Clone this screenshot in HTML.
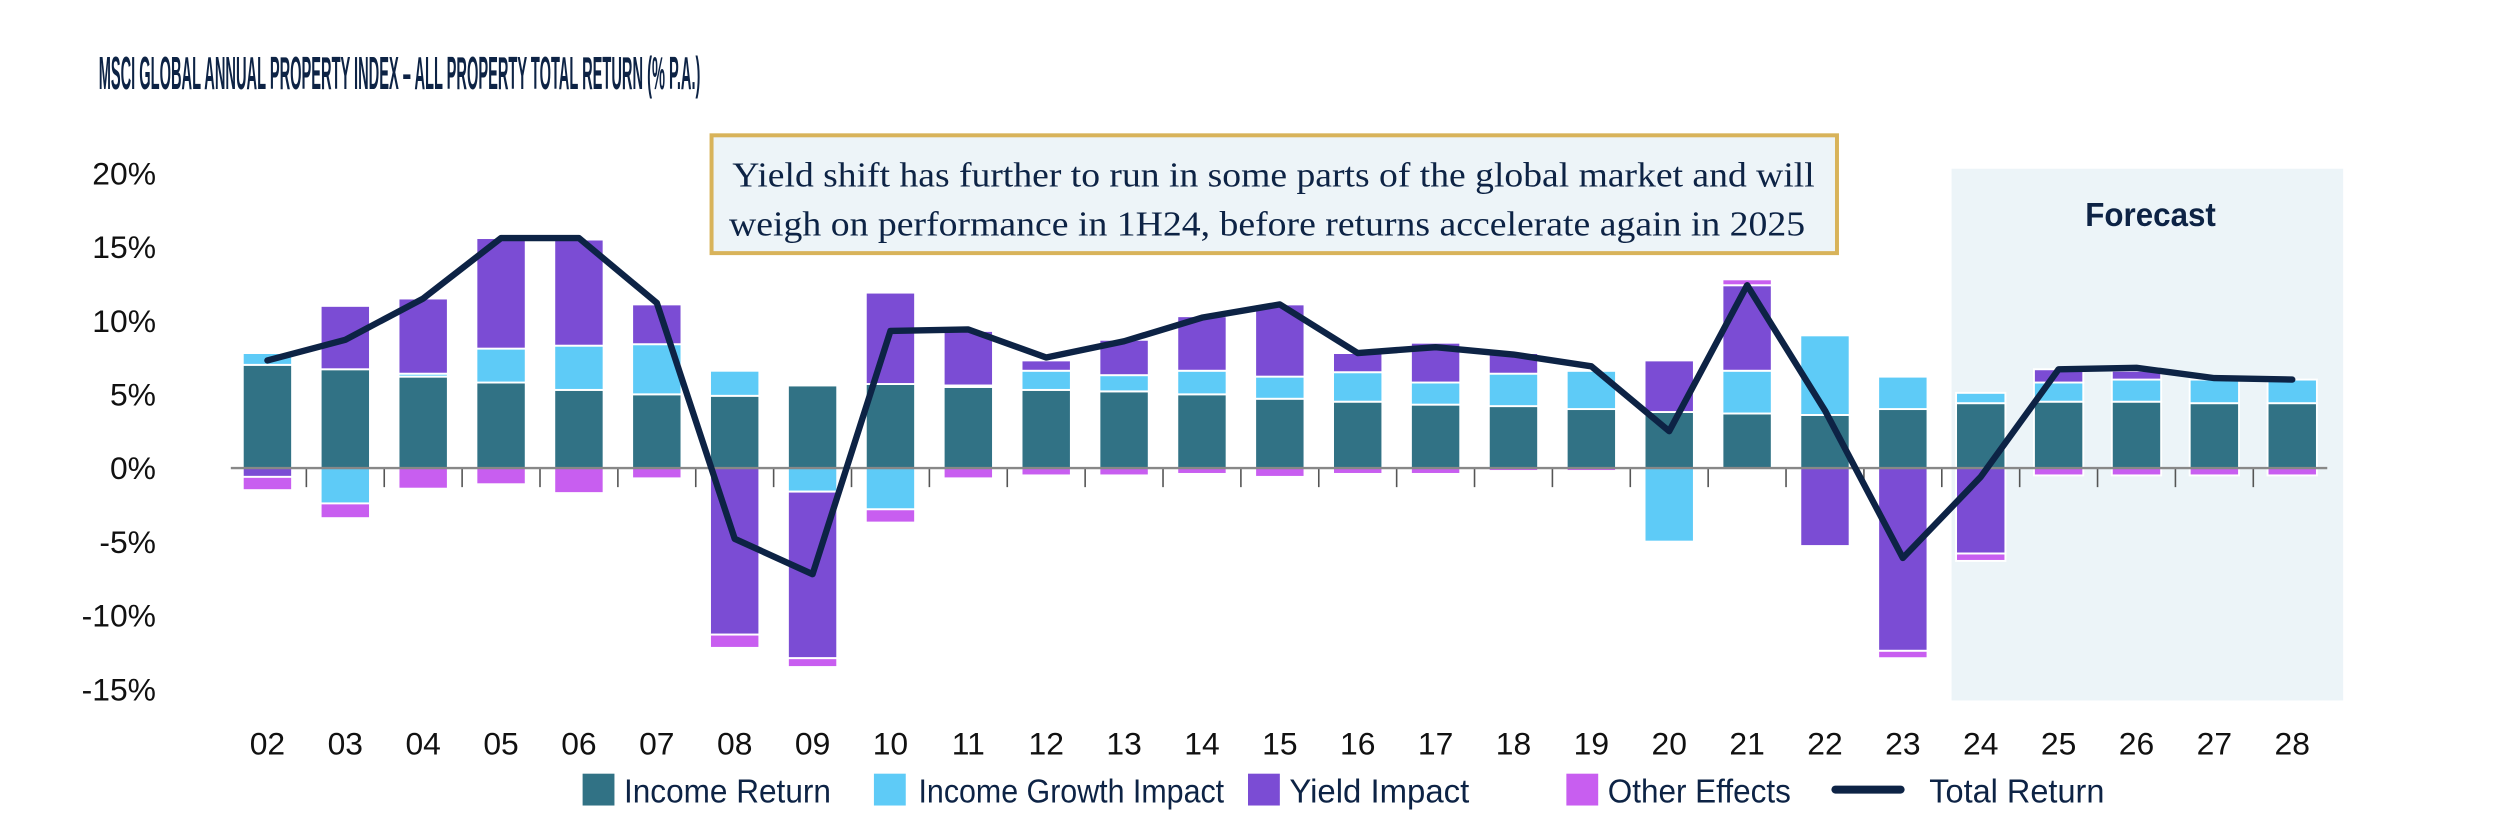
<!DOCTYPE html>
<html><head><meta charset="utf-8"><style>
html,body{margin:0;padding:0;background:#fff;}
svg{display:block;}
</style></head><body>
<svg id="chart" width="2496" height="838" viewBox="0 0 1568 526.4" preserveAspectRatio="none" xmlns="http://www.w3.org/2000/svg">
<text id="title" x="0" y="0" font-family="Liberation Sans, sans-serif" font-weight="bold" font-size="20" fill="#0d2345">MSCI GLOBAL ANNUAL PROPERTY INDEX – ALL PROPERTY TOTAL RETURN (% P.A.)</text>
<rect x="1226" y="106" width="246" height="334" fill="#ecf4f8"/>
<text x="1351" y="142" text-anchor="middle" font-family="Liberation Sans, sans-serif" font-weight="bold" font-size="21" fill="#0d2345" textLength="82" lengthAdjust="spacingAndGlyphs">Forecast</text>
<g id="plot"></g>
<g>
<rect x="447" y="85" width="707" height="74" fill="#edf4f8" stroke="#d8b35a" stroke-width="2.5"/>
<text x="800" y="117" text-anchor="middle" font-family="Liberation Serif, serif" font-size="22" fill="#0d2345" textLength="680" lengthAdjust="spacingAndGlyphs">Yield shift has further to run in some parts of the global market and will</text>
<text x="796" y="148" text-anchor="middle" font-family="Liberation Serif, serif" font-size="22" fill="#0d2345" textLength="676" lengthAdjust="spacingAndGlyphs">weigh on performance in 1H24, before returns accelerate again in 2025</text>
</g>
<g id="legend" font-family="Liberation Sans, sans-serif" font-size="21" fill="#0d2345">
<g><rect x="366" y="486" width="20" height="20" fill="#317285"/><text x="392" y="504" textLength="130" lengthAdjust="spacingAndGlyphs">Income Return</text></g>
<g><rect x="549" y="486" width="20" height="20" fill="#5ecbf7"/><text x="577" y="504" textLength="192" lengthAdjust="spacingAndGlyphs">Income Growth Impact</text></g>
<g><rect x="784" y="486" width="20" height="20" fill="#7b4cd4"/><text x="810" y="504" textLength="113" lengthAdjust="spacingAndGlyphs">Yield Impact</text></g>
<g><rect x="984" y="486" width="20" height="20" fill="#c85ef0"/><text x="1010" y="504" textLength="115" lengthAdjust="spacingAndGlyphs">Other Effects</text></g>
<g><line x1="1153" y1="496" x2="1194" y2="496" stroke="#0d2345" stroke-width="5" stroke-linecap="round"/><text x="1212" y="504" textLength="110" lengthAdjust="spacingAndGlyphs">Total Return</text></g>
</g>
</svg>
<script>
const categories = ["02","03","04","05","06","07","08","09","10","11","12","13","14","15","16","17","18","19","20","21","22","23","24","25","26","27","28"];
const incomeReturn = [7.0,6.7,6.2,5.8,5.3,5.0,4.9,5.6,5.7,5.5,5.3,5.2,5.0,4.7,4.5,4.3,4.2,4.0,3.8,3.7,3.6,4.0,4.4,4.5,4.5,4.4,4.4];
const incomeGrowth = [0.8,-2.4,0.2,2.3,3.0,3.4,1.7,-1.6,-2.8,0.1,1.3,1.1,1.6,1.5,2.0,1.5,2.2,2.6,-5.0,2.9,5.4,2.2,0.7,1.3,1.5,1.6,1.6];
const yieldImpact = [-0.6,4.3,5.1,7.5,7.2,2.7,-11.3,-11.3,6.2,3.7,0.7,2.4,3.7,4.9,1.3,2.7,1.4,0.1,3.5,5.8,-5.3,-12.4,-5.8,0.9,0.6,0,0];
const otherEffects = [-0.9,-1.0,-1.4,-1.1,-1.7,-0.7,-0.9,-0.6,-0.9,-0.7,-0.5,-0.5,-0.4,-0.6,-0.4,-0.4,-0.2,-0.2,-0.1,0.4,-0.1,-0.5,-0.5,-0.5,-0.5,-0.5,-0.5];
const totalReturn = [7.3,8.7,11.5,15.6,15.6,11.2,-4.8,-7.2,9.3,9.4,7.5,8.6,10.2,11.1,7.8,8.2,7.7,6.9,2.5,12.4,3.9,-6.1,-0.6,6.7,6.8,6.1,6.0];
const yTicks = [20,15,10,5,0,-5,-10,-15];
const yTickLabels = ["20%","15%","10%","5%","0%","-5%","-10%","-15%"];

const NS="http://www.w3.org/2000/svg";
const title=document.getElementById('title');
const tw=title.getComputedTextLength();
title.setAttribute('transform','translate(62,56) scale('+(378/tw)+',1.45)');

const plot=document.getElementById('plot');
const y0=294, pxPer=9.26, x0=168, step=(1440-168)/26, bw=31;
function y(v){return y0 - v*pxPer;}
function x(i){return x0 + i*step;}
function mk(tag,attrs){const e=document.createElementNS(NS,tag);for(const k in attrs)e.setAttribute(k,attrs[k]);plot.appendChild(e);return e;}

yTicks.forEach((t,i)=>{
  const e=mk('text',{x:98,y:y(t)+7,'text-anchor':'end','font-family':'Liberation Sans, sans-serif','font-size':'20',fill:'#111'});
  e.textContent=yTickLabels[i];
  
  
});
const series=[[incomeReturn,'#317285','income-return'],[incomeGrowth,'#5ecbf7','income-growth'],[yieldImpact,'#7b4cd4','yield-impact'],[otherEffects,'#c85ef0','other-effects']];
categories.forEach((c,i)=>{
  let pos=0,neg=0;
  series.forEach(([arr,col,nm])=>{
    const v=arr[i]; if(!v) return;
    let a,b;
    if(v>0){a=pos;b=pos+v;pos=b;}else{a=neg;b=neg+v;neg=b;}
    const top=Math.min(y(a),y(b)), h=Math.abs(y(a)-y(b));
    const r=mk('rect',{x:x(i)-bw/2,y:top,width:bw,height:h,fill:col,stroke:'#fff','stroke-width':1.2});
    
    
  });
  const t=mk('text',{x:x(i),y:474,'text-anchor':'middle','font-family':'Liberation Sans, sans-serif','font-size':'20',fill:'#111'});
  t.textContent=c;
  
  
  if(i<categories.length-1){
    const tk=mk('line',{x1:x(i)+step/2,y1:y0,x2:x(i)+step/2,y2:y0+12,stroke:'#555','stroke-width':1});
    
    
  }
});
const zl=mk('line',{x1:145,y1:y0,x2:1462,y2:y0,stroke:'#888','stroke-width':1.5});


const pts=totalReturn.map((v,i)=>x(i)+','+y(v)).join(' ');
const pl=mk('polyline',{points:pts,fill:'none',stroke:'#0d2345','stroke-width':4,'stroke-linejoin':'round','stroke-linecap':'round'});


</script>
</body></html>
